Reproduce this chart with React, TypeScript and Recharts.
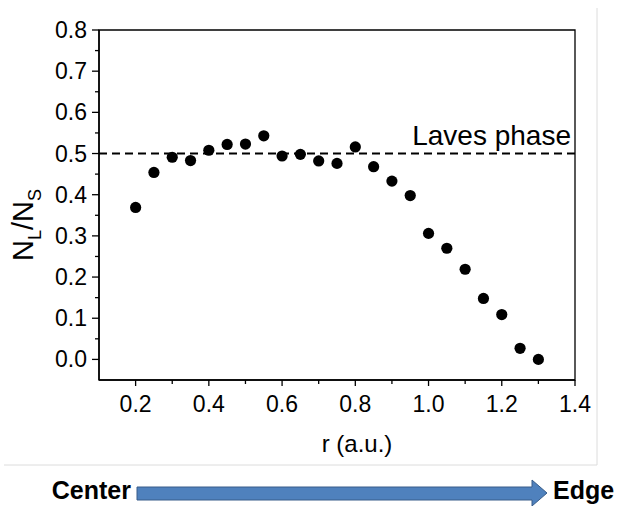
import React from "react";
import {
  ScatterChart,
  Scatter,
  XAxis,
  YAxis,
  ReferenceLine,
  ReferenceArea,
} from "recharts";

// values
const rValues = [
  0.2, 0.25, 0.3, 0.35, 0.4, 0.45, 0.5, 0.55, 0.6, 0.65, 0.7, 0.75, 0.8, 0.85,
  0.9, 0.95, 1.0, 1.05, 1.1, 1.15, 1.2, 1.25, 1.3,
];
const ratioValues = [
  0.369, 0.454, 0.491, 0.483, 0.508, 0.522, 0.523, 0.543, 0.494, 0.498, 0.482,
  0.476, 0.516, 0.468, 0.433, 0.398, 0.306, 0.27, 0.219, 0.148, 0.109, 0.027,
  0.0,
];

const xMajorTicks = [0.2, 0.4, 0.6, 0.8, 1.0, 1.2, 1.4];
const xMinorTicks = [0.3, 0.5, 0.7, 0.9, 1.1, 1.3];
const yMajorTicks = [0.0, 0.1, 0.2, 0.3, 0.4, 0.5, 0.6, 0.7, 0.8];
const yMinorTicks = [0.05, 0.15, 0.25, 0.35, 0.45, 0.55, 0.65, 0.75];

const lavesLevel = 0.5;
const lavesLabel = "Laves phase";

const FONT = "'Liberation Sans', Arial, sans-serif";

const data = rValues.map((r, i) => ({ r, ratio: ratioValues[i] }));

const XTick = (props: any) => {
  const { x, y, payload } = props;
  const v = payload.value;
  if (!xMajorTicks.includes(v)) {
    return <line x1={x} y1={y} x2={x} y2={y + 4} stroke="#000" strokeWidth={1.3} />;
  }
  return (
    <g>
      <line x1={x} y1={y} x2={x} y2={y + 6} stroke="#000" strokeWidth={1.3} />
      <text x={x} y={y + 32} textAnchor="middle" fontSize={23} fontFamily={FONT} fill="#000">
        {v.toFixed(1)}
      </text>
    </g>
  );
};

const YTick = (props: any) => {
  const { x, y, payload } = props;
  const v = payload.value;
  if (!yMajorTicks.includes(v)) {
    return <line x1={x} y1={y} x2={x - 4} y2={y} stroke="#000" strokeWidth={1.3} />;
  }
  return (
    <g>
      <line x1={x} y1={y} x2={x - 7} y2={y} stroke="#000" strokeWidth={1.3} />
      <text x={x - 12} y={y + 8} textAnchor="end" fontSize={23} fontFamily={FONT} fill="#000">
        {v.toFixed(1)}
      </text>
    </g>
  );
};

const Dot = (props: any) => <circle cx={props.cx} cy={props.cy} r={5.6} fill="#000" />;

const App = () => {
  return (
    <div style={{ position: "absolute", left: 0, top: 0, width: 620, height: 506 }}>
      <ScatterChart
        width={620}
        height={506}
        margin={{ top: 30, right: 45, left: 0, bottom: 66 }}
      >
        <XAxis
          type="number"
          dataKey="r"
          domain={[0.1, 1.4]}
          ticks={[...xMajorTicks, ...xMinorTicks].sort((a, b) => a - b)}
          interval={0}
          tickSize={0}
          tickMargin={0}
          tickLine={false}
          tick={<XTick />}
          axisLine={{ stroke: "#000", strokeWidth: 1.5 }}
          height={60}
          allowDataOverflow
          label={{
            content: (p: any) => {
              const vb = p.viewBox;
              return (
                <text
                  x={vb.x + vb.width / 2 + 20}
                  y={vb.y + 72}
                  textAnchor="middle"
                  fontSize={24}
                  fontFamily={FONT}
                  fill="#000"
                >
                  r (a.u.)
                </text>
              );
            },
          }}
        />
        <YAxis
          type="number"
          dataKey="ratio"
          domain={[-0.05, 0.8]}
          ticks={[...yMajorTicks, ...yMinorTicks].sort((a, b) => a - b)}
          interval={0}
          tickSize={0}
          tickMargin={0}
          tickLine={false}
          tick={<YTick />}
          axisLine={{ stroke: "#000", strokeWidth: 1.5 }}
          width={99}
          allowDataOverflow
          label={{
            content: (p: any) => {
              const vb = p.viewBox;
              const cx = vb.x + 33;
              const cy = vb.y + vb.height / 2 + 20;
              return (
                <text
                  x={cx}
                  y={cy}
                  transform={`rotate(-90, ${cx}, ${cy})`}
                  textAnchor="middle"
                  fontSize={29}
                  fontFamily={FONT}
                  fill="#000"
                >
                  N
                  <tspan fontSize={18} dy={8}>L</tspan>
                  <tspan dy={-8}>/N</tspan>
                  <tspan fontSize={18} dy={8}>S</tspan>
                </text>
              );
            },
          }}
        />
        <ReferenceArea
          x1={0.1}
          x2={1.4}
          y1={-0.05}
          y2={0.8}
          fill="none"
          fillOpacity={0}
          stroke="#000"
          strokeWidth={1.3}
          ifOverflow="visible"
        />
        <ReferenceLine
          y={lavesLevel}
          stroke="#000"
          strokeWidth={2}
          strokeDasharray="8 5"
          label={{
            content: (p: any) => {
              const vb = p.viewBox;
              return (
                <text
                  x={vb.x + vb.width - 4}
                  y={vb.y - 9}
                  textAnchor="end"
                  fontSize={28}
                  fontFamily={FONT}
                  fill="#000"
                >
                  {lavesLabel}
                </text>
              );
            },
          }}
        />
        <Scatter data={data} shape={<Dot />} isAnimationActive={false} />
      </ScatterChart>
      <svg
        width={620}
        height={506}
        style={{ position: "absolute", left: 0, top: 0, pointerEvents: "none" }}
      >
        <line x1={4} y1={465} x2={597} y2={465} stroke="#dcdcdc" strokeWidth={1} />
        <line x1={597} y1={8} x2={597} y2={465} stroke="#dcdcdc" strokeWidth={1} />
        <text x={131} y={499} textAnchor="end" fontSize={25} fontWeight="bold" fontFamily={FONT} fill="#000">
          Center
        </text>
        <polygon
          points="137,487 532,487 532,480 547,493 532,506 532,500 137,500"
          fill="#4f81bd"
          stroke="#385d8a"
          strokeWidth={1}
        />
        <text x={553} y={499} fontSize={25} fontWeight="bold" fontFamily={FONT} fill="#000">
          Edge
        </text>
      </svg>
    </div>
  );
};

export default App;
